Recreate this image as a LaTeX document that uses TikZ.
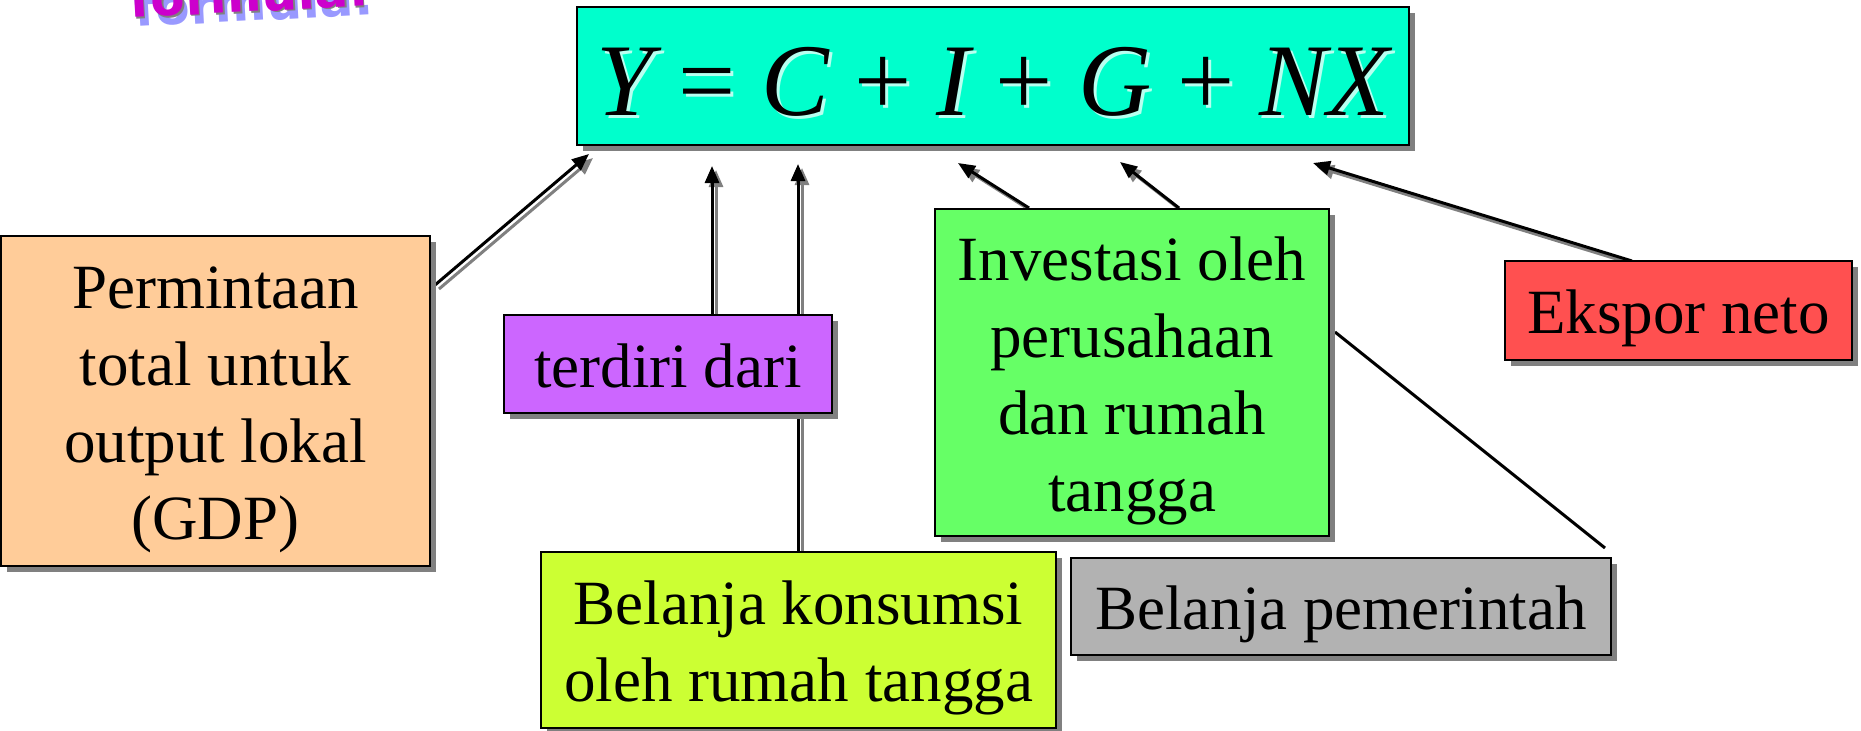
\documentclass[tikz,border=0pt]{standalone}
\usepackage{fontspec}
\setmainfont{Liberation Serif}
\newfontfamily\wafont{DejaVu Sans}
\usetikzlibrary{arrows.meta,shadows}
\definecolor{eqc}{HTML}{00FFCC}
\definecolor{orangec}{HTML}{FFCC99}
\definecolor{purplec}{HTML}{CC66FF}
\definecolor{greenc}{HTML}{66FF66}
\definecolor{redc}{HTML}{FF5050}
\definecolor{yellowc}{HTML}{CCFF33}
\definecolor{grayc}{HTML}{B2B2B2}
\definecolor{shadowc}{HTML}{808080}
\definecolor{magc}{HTML}{CC00CC}
\definecolor{lavc}{HTML}{9999FF}
\definecolor{glowc}{HTML}{B8FFF0}
\newcommand{\boxtext}[1]{\raisebox{-8pt}[\height][\depth]{\begin{tabular}{@{}c@{}}#1\end{tabular}}}
\newcommand{\eqline}{\scalebox{0.985}[1]{\itshape Y \upshape= \itshape C \upshape+ \itshape I \upshape+ \itshape G \upshape+ \itshape NX}}
\tikzset{
  box/.style={draw=black, line width=2.5pt, inner sep=0pt, align=center,
    font=\fontsize{63}{77}\selectfont,
    drop shadow={shadow xshift=6pt, shadow yshift=-6pt, fill=shadowc, opacity=1}},
  arr/.style={line width=3pt, -{Triangle[length=17pt,width=14pt]}},
  arrshadow/.style={arr, draw=shadowc, transform canvas={xshift=4pt,yshift=-4pt}},
  link/.style={line width=3pt},
  eqfont/.style={font=\fontsize{103}{103}\selectfont},
  wordart/.style={anchor=base west, rotate=3, inner sep=0pt,
    font=\wafont\bfseries\fontsize{50}{50}\selectfont}
}
\begin{document}
\begin{tikzpicture}[x=1pt,y=-1pt]
\useasboundingbox (0,0) rectangle (1861,731);
\fill[white] (0,0) rectangle (1861,731);

% WordArt fragment (clipped at the top edge)
\begin{scope}
  \clip (0,0) rectangle (1861,731);
  \node[wordart, text=lavc] (washadow) at (135,27) {formula:};
  \node[wordart, text=shadowc] (waedge) at (131.5,19.5) {formula:};
  \node[wordart, text=magc] (wa) at (130,18) {formula:};
\end{scope}

% equation box
\node[box, fill=eqc, minimum width=832pt, minimum height=138pt] (eq) at (993,76) {};
\node[anchor=base, inner sep=0pt, eqfont, text=glowc] (eqglow) at (996,118) {\eqline};
\node[anchor=base, inner sep=0pt, eqfont] (eqtxt) at (993,115) {\eqline};

% named coordinates (arrow tips and start points)
\coordinate (tY) at (589,154);
\coordinate (tC) at (712,166);
\coordinate (tI) at (798,164);
\coordinate (tG1) at (958,163);
\coordinate (tG2) at (1120,162);
\coordinate (tNX) at (1313,163);
\coordinate (sY) at (435,285);
\coordinate (sC) at (712,315);
\coordinate (sI) at (798,552);
\coordinate (sG1) at (1029,208);
\coordinate (sG2) at (1179,208);
\coordinate (sNX) at (1632,261);
\coordinate (sP) at (1605,548);
\coordinate (eP) at (1335,332);

% shadows of connectors
\draw[arrshadow] (sY) -- (tY);
\draw[arrshadow] (sC) -- (tC);
\draw[arrshadow] (sI) -- (tI);
\draw[arrshadow] (sG1) -- (tG1);
\draw[arrshadow] (sG2) -- (tG2);
\draw[arrshadow] (sNX) -- (tNX);

% connectors
\draw[arr] (sY) -- (tY);
\draw[arr] (sC) -- (tC);
\draw[arr] (sI) -- (tI);
\draw[arr] (sG1) -- (tG1);
\draw[arr] (sG2) -- (tG2);
\draw[arr] (sNX) -- (tNX);
\draw[link] (sP) -- (eP);

% boxes
\node[box, fill=orangec, minimum width=429pt, minimum height=330pt] (gdp) at (215.5,401)
  {\boxtext{Permintaan\\total untuk\\output lokal\\(GDP)}};
\node[box, fill=purplec, minimum width=328pt, minimum height=98pt] (terdiri) at (668,364)
  {\boxtext{terdiri dari}};
\node[box, fill=greenc, minimum width=394pt, minimum height=327pt] (inv) at (1132,372.5)
  {\boxtext{Investasi oleh\\perusahaan\\dan rumah\\tangga}};
\node[box, fill=redc, minimum width=347pt, minimum height=99pt] (ekspor) at (1678.5,310.5)
  {\boxtext{Ekspor neto}};
\node[box, fill=yellowc, minimum width=515pt, minimum height=176pt] (kons) at (798.5,640)
  {\boxtext{Belanja konsumsi\\oleh rumah tangga}};
\node[box, fill=grayc, minimum width=540pt, minimum height=97pt] (pem) at (1341,606.5)
  {\boxtext{Belanja pemerintah}};
\end{tikzpicture}
\end{document}
